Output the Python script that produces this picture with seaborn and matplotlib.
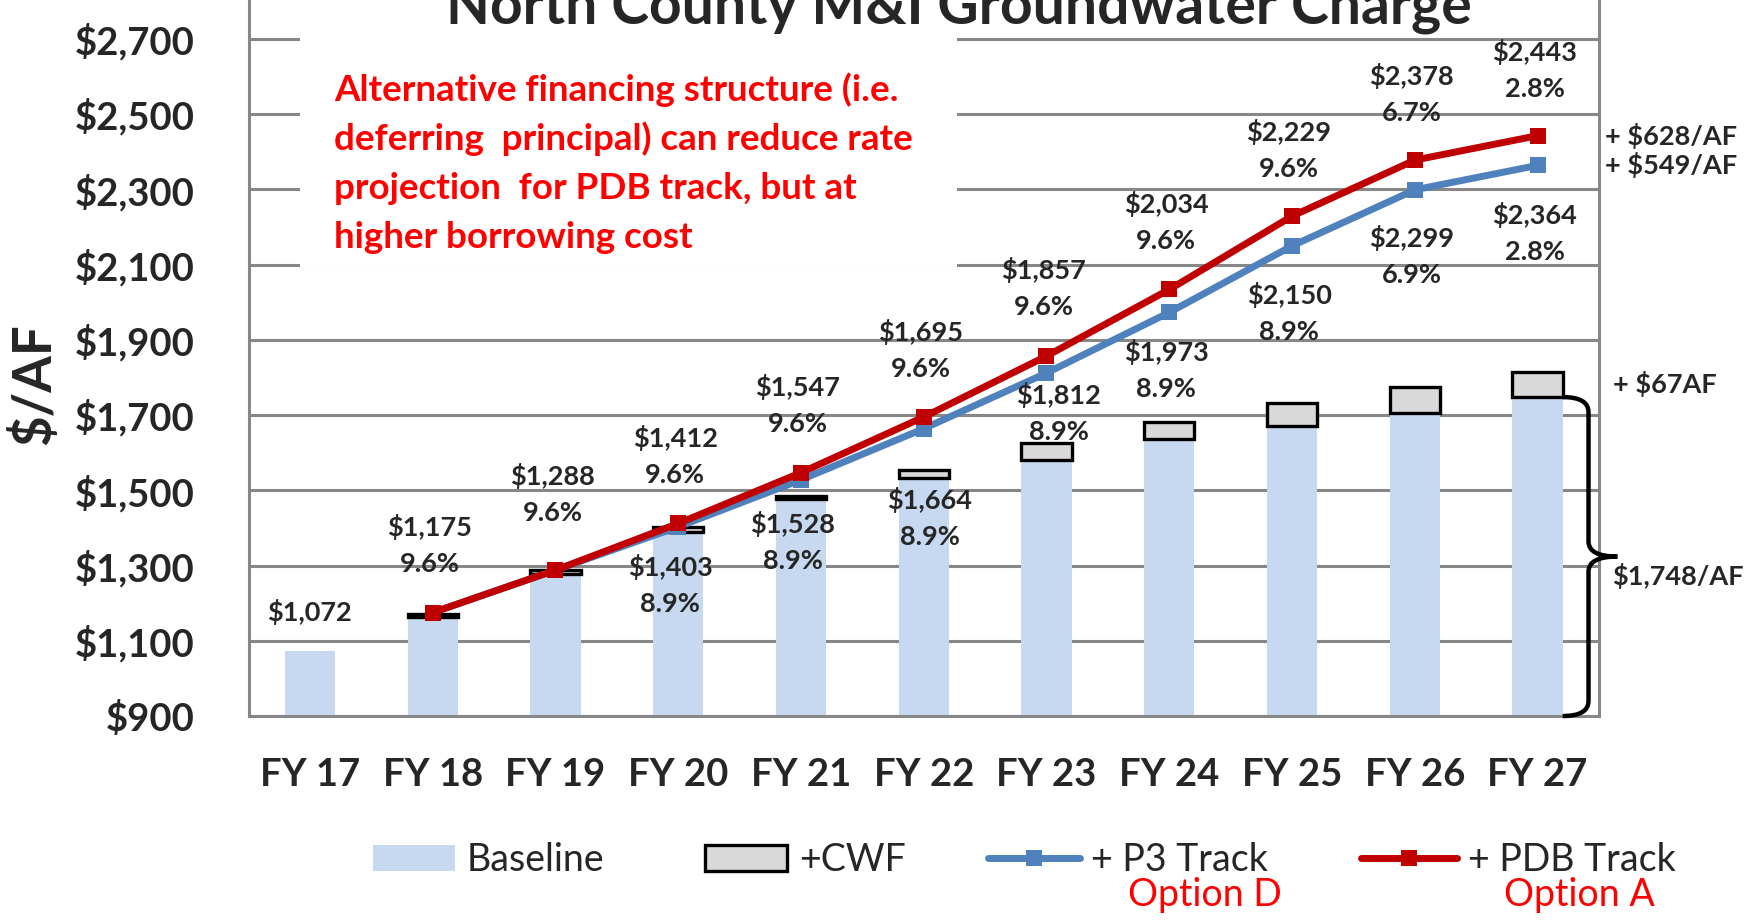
import numpy as np
import pandas as pd
import matplotlib
matplotlib.use("Agg")
import matplotlib.pyplot as plt
import seaborn as sns
from matplotlib.patches import Patch, Rectangle, PathPatch
from matplotlib.lines import Line2D
from matplotlib.path import Path

# ---------------- data ----------------
categories = ["FY 17", "FY 18", "FY 19", "FY 20", "FY 21", "FY 22",
              "FY 23", "FY 24", "FY 25", "FY 26", "FY 27"]
baseline = [1072, 1164, 1278, 1388, 1476, 1532, 1582, 1637, 1672, 1706, 1748]
cwf = [np.nan, 8, 10, 14, 8, 22, 44, 44, 60, 70, 67]

track_years = categories[1:]
p3_track = [1175, 1288, 1403, 1528, 1664, 1812, 1973, 2150, 2299, 2364]
pdb_track = [1175, 1288, 1412, 1547, 1695, 1857, 2034, 2229, 2378, 2443]
pdb_pct = ["9.6%", "9.6%", "9.6%", "9.6%", "9.6%", "9.6%", "9.6%", "9.6%", "6.7%", "2.8%"]
p3_label_years = categories[3:]
p3_pct = ["8.9%", "8.9%", "8.9%", "8.9%", "8.9%", "8.9%", "6.9%", "2.8%"]

yticks = list(range(900, 2701, 200))

# label placement (pixels) - layout only
pdb_label_dy = [86, 94, 85, 86, 85, 86, 85, 84, 84, 84]
p3_label_dy = [40, 44, 71, 22, 40, 49, 48, 50]
p3_label_dx = [-8, -8, 6, 12, -3, -3, -3, -3]

# ---------------- style ----------------
sns.set_style("white")
plt.rcParams["font.family"] = ["Lato", "DejaVu Sans"]
plt.rcParams["text.parse_math"] = False

BLUE_BAR = "#C6D9F1"
GREY_BOX = "#D9D9D9"
BLUE = "#4F81BD"
RED = "#C00000"
GRID = "#878787"
PX = 0.72  # points per pixel at dpi 100

fig = plt.figure(figsize=(17.49, 9.22), dpi=100)
ax = fig.add_axes([0.1421, 0.2234, 0.7721, 0.7751])

# bars
sns.barplot(x=categories, y=baseline, order=categories, color=BLUE_BAR,
            saturation=1, width=0.41, errorbar=None, linewidth=0,
            edgecolor="none", ax=ax, zorder=2)

df_cwf = pd.DataFrame({"year": categories, "cwf": cwf, "base": baseline}).dropna()
sns.barplot(data=df_cwf, x="year", y="cwf", order=categories,
            bottom=df_cwf["base"].values, color=GREY_BOX, saturation=1,
            width=0.41, errorbar=None, edgecolor="black", linewidth=2.4,
            ax=ax, zorder=3)

# lines
pos = [categories.index(c) for c in track_years]
sns.lineplot(x=pos, y=p3_track, color=BLUE, linewidth=5, marker="s",
             markersize=11.5, markeredgewidth=0, ax=ax, zorder=5, sort=False)
sns.lineplot(x=pos, y=pdb_track, color=RED, linewidth=5, marker="s",
             markersize=11.5, markeredgewidth=0, ax=ax, zorder=6, sort=False)

# axes formatting
ax.set_xlim(-0.5, len(categories) - 0.5)
ax.set_ylim(900, 2800)
ax.set_yticks(yticks)
ax.set_yticklabels([f"${v:,}" for v in yticks])
ax.set_xticks(range(len(categories)))
ax.set_xticklabels(categories)
ax.set_xticks(np.arange(-0.5, len(categories)), minor=True)
ax.set_xlabel("")
ax.set_ylabel("")
ax.tick_params(axis="x", which="major", length=0, pad=30, labelsize=27.5)
ax.tick_params(axis="x", which="minor", length=8.6, width=2.2, color=GRID, direction="out")
ax.tick_params(axis="y", length=9.7, width=2.2, color=GRID, pad=29, labelsize=27.5, direction="out")
for lbl in ax.get_xticklabels() + ax.get_yticklabels():
    lbl.set_fontweight("bold")
ax.yaxis.grid(True, color=GRID, linewidth=2.2)
ax.xaxis.grid(False)
ax.set_axisbelow(True)
ax.spines["top"].set_visible(False)
for s in ["left", "right", "bottom"]:
    ax.spines[s].set_color(GRID)
    ax.spines[s].set_linewidth(2.2)

# white box behind red annotation
ax.add_patch(Rectangle((0.038, 0.629), 0.4866, 0.362, transform=ax.transAxes,
                       facecolor="white", edgecolor="none", zorder=1))
red_lines = ["Alternative financing structure (i.e.",
             "deferring  principal) can reduce rate",
             "projection  for PDB track, but at",
             "higher borrowing cost"]
for k, line in enumerate(red_lines):
    fig.text(334 / 1749, 1 - (101 + 49 * k) / 922, line, color="#FF0000",
             fontsize=26.5, fontweight="bold", ha="left", va="baseline")

# title (cut at the top, as in the reference)
fig.text(959 / 1749, 1 - 23 / 922, "North County M&I Groundwater Charge",
         ha="center", va="baseline", fontsize=41, fontweight="bold")

# y label
fig.text(34 / 1749, 1 - 384 / 922, "$/AF", rotation=90, ha="center",
         va="center", fontsize=38, fontweight="bold")

# data labels
lab_kw = dict(textcoords="offset points", ha="center", va="center",
              fontsize=19.5, fontweight="bold", zorder=8)
ax.annotate(f"${baseline[0]:,}", (0, baseline[0]), xytext=(0, 39 * PX), **lab_kw)
for x, v, pct, dy in zip(pos, pdb_track, pdb_pct, pdb_label_dy):
    ax.annotate(f"${v:,}", (x, v), xytext=(-3 * PX, dy * PX), **lab_kw)
    ax.annotate(pct, (x, v), xytext=(-3 * PX, (dy - 37) * PX), **lab_kw)
for yr, pct, dy, dx in zip(p3_label_years, p3_pct, p3_label_dy, p3_label_dx):
    x = categories.index(yr)
    v = p3_track[track_years.index(yr)]
    ax.annotate(f"${v:,}", (x, v), xytext=(dx * PX, -dy * PX), **lab_kw)
    ax.annotate(pct, (x, v), xytext=(dx * PX, -(dy + 37) * PX), **lab_kw)

# right-side annotations
last = len(categories) - 1
total_last = baseline[-1] + cwf[-1]
side_kw = dict(textcoords="offset points", ha="left", va="center", fontsize=19.5,
               fontweight="bold", annotation_clip=False)
ax.annotate(f"+ ${pdb_track[-1] - total_last:,}/AF", (last, pdb_track[-1]),
            xytext=(67 * PX, 0), **side_kw)
ax.annotate(f"+ ${p3_track[-1] - total_last:,}/AF", (last, p3_track[-1]),
            xytext=(67 * PX, 0), **side_kw)
ax.annotate(f"+ ${cwf[-1]:,.0f}AF", (last, baseline[-1] + cwf[-1] / 2),
            xytext=(75 * PX, 0), **side_kw)
mid = (baseline[-1] + 900) / 2
ax.annotate(f"${baseline[-1]:,}/AF", (last, mid), xytext=(75 * PX, -19 * PX), **side_kw)

# curly brace
xb0 = last + 0.205
xv = last + 0.415
xn = last + 0.65
r = 40
top, bot = baseline[-1], 900
verts = [(xb0, top), (xv, top), (xv, top - r),
         (xv, mid + r), (xv, mid), (xn, mid),
         (xv, mid), (xv, mid - r),
         (xv, bot + r), (xv, bot), (xb0, bot)]
codes = [Path.MOVETO, Path.CURVE3, Path.CURVE3,
         Path.LINETO, Path.CURVE3, Path.CURVE3,
         Path.CURVE3, Path.CURVE3,
         Path.LINETO, Path.CURVE3, Path.CURVE3]
ax.add_patch(PathPatch(Path(verts, codes), facecolor="none", edgecolor="black",
                       linewidth=3.2, clip_on=False, zorder=7))

# legend (four entries placed individually)
handles = [
    (Patch(facecolor=BLUE_BAR, edgecolor="none"), "Baseline", 373, 2.2),
    (Patch(facecolor=GREY_BOX, edgecolor="black", linewidth=2.4), "+CWF", 705, 2.2),
    (Line2D([], [], color=BLUE, lw=5, marker="s", markersize=11.5,
            markeredgewidth=0, solid_capstyle="round"), "+ P3 Track", 988, 2.45),
    (Line2D([], [], color=RED, lw=5, marker="s", markersize=11.5,
            markeredgewidth=0, solid_capstyle="round"), "+ PDB Track", 1361, 2.55),
]
for h, lab, xl, hl in handles:
    fig.legend(handles=[h], labels=[lab], loc="center left",
               bbox_to_anchor=(xl / 1749, 1 - 860 / 922), frameon=False,
               fontsize=27, handlelength=hl, handleheight=0.7,
               handletextpad=0.3, borderaxespad=0, borderpad=0)
fig.text(1128 / 1749, 1 - 895 / 922, "Option D", color="#FF0000", fontsize=27,
         ha="left", va="center")
fig.text(1504 / 1749, 1 - 895 / 922, "Option A", color="#FF0000", fontsize=27,
         ha="left", va="center")

fig.savefig("out.png", dpi=100)
